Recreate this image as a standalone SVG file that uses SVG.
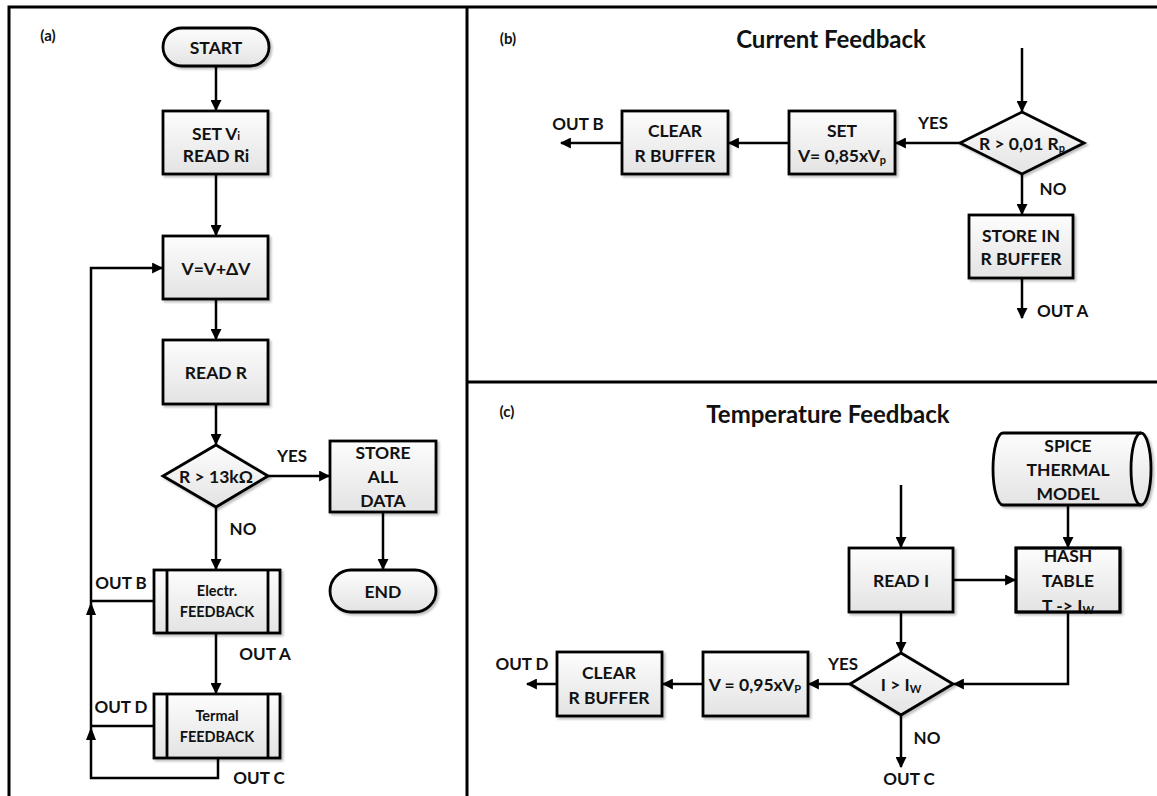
<svg xmlns="http://www.w3.org/2000/svg" width="1157" height="796" viewBox="0 0 1157 796">
<style>
text{font-family:Lato,"Liberation Sans",sans-serif;font-weight:700;fill:#111;text-anchor:middle;dominant-baseline:central}
.t{font-size:17.5px}
.s{font-size:14.5px}
.h{font-size:24px}
.p{font-size:15px}
.lb{font-size:17px}
.box{fill:url(#g);stroke:#000;stroke-width:2.8;filter:url(#sh)}
.in{fill:none;stroke:#000;stroke-width:2.8}
.c{fill:none;stroke:#000;stroke-width:2.5}
.frame{fill:none;stroke:#000;stroke-width:3}
.sub{font-size:11px}
</style>
<defs>
<linearGradient id="g" x1="0" y1="0" x2="0" y2="1"><stop offset="0" stop-color="#fdfdfd"/><stop offset="1" stop-color="#e3e3e3"/></linearGradient>
<filter id="sh" x="-10%" y="-10%" width="130%" height="130%"><feDropShadow dx="2" dy="2" stdDeviation="1.2" flood-color="#000" flood-opacity="0.25"/></filter>
<marker id="ah" viewBox="0 0 10 10" refX="9" refY="5" markerWidth="11" markerHeight="11" markerUnits="userSpaceOnUse" orient="auto"><path d="M0,0 L10,5 L0,10 z" fill="#000"/></marker>
</defs>

<g id="frame">
<path class="frame" d="M9,796 V7 H1157 M467,7 V796 M467,382 H1157"/>
</g>

<g id="labels">
<text class="p" x="48" y="35">(a)</text>
<text class="p" x="508" y="38">(b)</text>
<text class="h" x="831" y="38">Current Feedback</text>
<text class="p" x="507" y="411">(c)</text>
<text class="h" x="828" y="413">Temperature Feedback</text>
</g>

<g id="connectors">
<!-- panel a -->
<path class="c" marker-end="url(#ah)" d="M216,66 V110"/>
<path class="c" marker-end="url(#ah)" d="M216,174 V235"/>
<path class="c" marker-end="url(#ah)" d="M216,299 V339"/>
<path class="c" marker-end="url(#ah)" d="M216,404 V444"/>
<path class="c" marker-end="url(#ah)" d="M268,476 H329"/>
<path class="c" marker-end="url(#ah)" d="M216,507 V569"/>
<path class="c" marker-end="url(#ah)" d="M216,633 V693"/>
<path class="c" marker-end="url(#ah)" d="M383,512 V569"/>
<path class="c" marker-end="url(#ah)" d="M218,758 V778 H91 V268 H162"/>
<path class="c" d="M154,601 H91 M154,726 H91"/>
<path d="M91,602 L96,615 L86,615 z M91,727 L96,740 L86,740 z" fill="#000"/>
<!-- panel b -->
<path class="c" marker-end="url(#ah)" d="M1022,48 V111"/>
<path class="c" marker-end="url(#ah)" d="M960,143 H896"/>
<path class="c" marker-end="url(#ah)" d="M789,143 H729"/>
<path class="c" marker-end="url(#ah)" d="M622,143 H561"/>
<path class="c" marker-end="url(#ah)" d="M1022,173 V214"/>
<path class="c" marker-end="url(#ah)" d="M1022,278 V318"/>
<!-- panel c -->
<path class="c" marker-end="url(#ah)" d="M901,485 V547"/>
<path class="c" marker-end="url(#ah)" d="M953,580 H1015"/>
<path class="c" marker-end="url(#ah)" d="M1068,505 V547"/>
<path class="c" marker-end="url(#ah)" d="M1068,612 V684 H954"/>
<path class="c" marker-end="url(#ah)" d="M901,612 V652"/>
<path class="c" marker-end="url(#ah)" d="M850,684 H809"/>
<path class="c" marker-end="url(#ah)" d="M703,684 H663"/>
<path class="c" marker-end="url(#ah)" d="M557,684 H527"/>
<path class="c" marker-end="url(#ah)" d="M901,715 V767"/>
</g>

<g id="conn-labels">
<text class="lb" x="292" y="455">YES</text>
<text class="lb" x="243" y="528">NO</text>
<text class="lb" x="121" y="582">OUT B</text>
<text class="lb" x="265" y="653">OUT A</text>
<text class="lb" x="121" y="706">OUT D</text>
<text class="lb" x="259" y="777">OUT C</text>
<text class="lb" x="578" y="123">OUT B</text>
<text class="lb" x="933" y="122">YES</text>
<text class="lb" x="1053" y="188">NO</text>
<text class="lb" x="1037" y="310" style="text-anchor:start">OUT A</text>
<text class="lb" x="522" y="663">OUT D</text>
<text class="lb" x="843" y="663">YES</text>
<text class="lb" x="927" y="737">NO</text>
<text class="lb" x="909" y="778">OUT C</text>
</g>

<g id="start">
<rect class="box" x="163" y="28" width="106" height="38" rx="19"/>
<text class="t" x="216" y="47">START</text>
</g>
<g id="setvi">
<rect class="box" x="163" y="111" width="105" height="63"/>
<text class="t" x="216" y="133">SET V<tspan class="sub" dy="2">i</tspan></text>
<text class="t" x="216" y="155">READ Ri</text>
</g>
<g id="vinc">
<rect class="box" x="163" y="236" width="105" height="63"/>
<text class="t" x="216" y="268">V=V+ΔV</text>
</g>
<g id="readr">
<rect class="box" x="163" y="340" width="105" height="64"/>
<text class="t" x="216" y="372">READ R</text>
</g>
<g id="dec-a">
<path class="box" d="M216,445 L268,476 L216,507 L163,476 Z"/>
<text class="t" x="216" y="476">R &gt; 13kΩ</text>
</g>
<g id="store-all">
<rect class="box" x="330" y="441" width="106" height="71"/>
<text class="t" x="383" y="452">STORE</text>
<text class="t" x="383" y="476">ALL</text>
<text class="t" x="383" y="500">DATA</text>
</g>
<g id="end">
<rect class="box" x="330" y="570" width="106" height="42" rx="21"/>
<text class="t" x="383" y="591">END</text>
</g>
<g id="electr">
<rect class="box" x="154" y="570" width="126" height="63"/>
<path class="in" d="M167,570 V633 M268,570 V633"/>
<text class="s" x="217" y="590">Electr.</text>
<text class="s" x="217" y="611">FEEDBACK</text>
</g>
<g id="termal">
<rect class="box" x="154" y="694" width="126" height="64"/>
<path class="in" d="M167,694 V758 M268,694 V758"/>
<text class="s" x="217" y="715">Termal</text>
<text class="s" x="217" y="736">FEEDBACK</text>
</g>

<g id="dec-b">
<path class="box" d="M1022,112 L1084,143 L1022,174 L960,143 Z"/>
<text class="t" x="1022" y="143">R &gt; 0,01 R<tspan class="sub" dy="4">p</tspan></text>
</g>
<g id="set-b">
<rect class="box" x="789" y="111" width="106" height="63"/>
<text class="t" x="842" y="130">SET</text>
<text class="t" x="842" y="155">V= 0,85xV<tspan class="sub" dy="4">p</tspan></text>
</g>
<g id="clear-b">
<rect class="box" x="622" y="111" width="106" height="63"/>
<text class="t" x="675" y="130">CLEAR</text>
<text class="t" x="675" y="155">R BUFFER</text>
</g>
<g id="storein">
<rect class="box" x="969" y="215" width="104" height="63"/>
<text class="t" x="1021" y="235">STORE IN</text>
<text class="t" x="1021" y="258">R BUFFER</text>
</g>

<g id="spice">
<path class="box" d="M1003,433 H1141 A10,36 0 0 1 1141,505 H1003 A10,36 0 0 1 1003,433 Z"/>
<path class="in" d="M1141,505 A10,36 0 0 1 1141,433"/>
<text class="t" x="1068" y="445">SPICE</text>
<text class="t" x="1068" y="469">THERMAL</text>
<text class="t" x="1068" y="493">MODEL</text>
</g>
<g id="readi">
<rect class="box" x="849" y="548" width="104" height="64"/>
<text class="t" x="901" y="580">READ I</text>
</g>
<g id="hash">
<rect class="box" x="1016" y="548" width="104" height="64"/>
<text class="t" x="1068" y="555">HASH</text>
<text class="t" x="1068" y="580">TABLE</text>
<text class="t" x="1068" y="605">T -&gt; I<tspan class="sub" dy="4">W</tspan></text>
<rect class="in" x="1016" y="548" width="104" height="64"/>
</g>
<g id="dec-c">
<path class="box" d="M901,653 L953,684 L901,715 L850,684 Z"/>
<text class="t" x="901" y="684">I &gt; I<tspan class="sub" dy="4">W</tspan></text>
</g>
<g id="v095">
<rect class="box" x="703" y="652" width="105" height="64"/>
<text class="t" x="755" y="684">V = 0,95xV<tspan class="sub" dy="4">P</tspan></text>
</g>
<g id="clear-c">
<rect class="box" x="557" y="652" width="105" height="64"/>
<text class="t" x="609" y="672">CLEAR</text>
<text class="t" x="609" y="697">R BUFFER</text>
</g>
</svg>
